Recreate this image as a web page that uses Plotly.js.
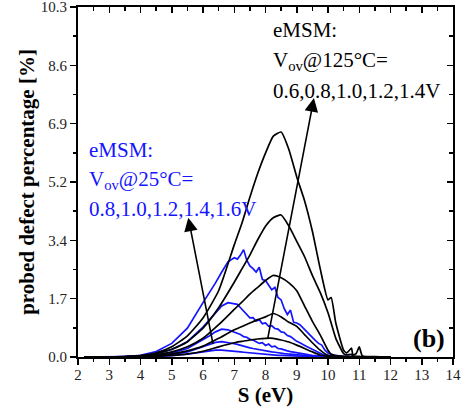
<!DOCTYPE html>
<html>
<head>
<meta charset="utf-8">
<script src="https://cdn.plot.ly/plotly-3.0.1.min.js"></script>
<style>html,body{margin:0;padding:0;background:#fff;}#chart{width:468px;height:408px;}</style>
</head>
<body>
<div id="chart"></div>
<script>
// Energy grids (eV)
const energyBlack = [2.2, 3.0, 3.5, 4.0, 4.5, 5.0, 5.5, 6.0, 6.5, 7.0, 7.25, 7.5, 7.75, 8.0, 8.25, 8.5, 8.75, 9.0, 9.25, 9.5, 9.75, 10.0, 10.1, 10.25, 10.5, 10.6, 10.75, 10.8, 10.9, 11.0, 11.1, 11.5, 12.0];
const energyBlue = [2.2, 3.0, 3.5, 4.0, 4.5, 5.0, 5.5, 6.0, 6.2, 6.4, 6.6, 6.8, 7.0, 7.1, 7.2, 7.3, 7.4, 7.5, 7.6, 7.7, 7.8, 7.9, 8.0, 8.1, 8.2, 8.3, 8.4, 8.5, 8.6, 8.7, 8.8, 8.9, 9.0, 9.1, 9.2, 9.3, 9.4, 9.5, 9.6, 9.7, 9.8, 9.9, 10.0, 10.2, 10.5, 11.0, 12.0];

// eMSM Vov @125°C (black)
const vov125Labels = ['0.6', '0.8', '1.0', '1.2', '1.4'];
const hot06 = [0, 0.0005, 0.002, 0.008, 0.02, 0.045, 0.09, 0.17, 0.3, 0.42, 0.46, 0.5, 0.53, 0.55, 0.55, 0.5, 0.44, 0.35, 0.25, 0.15, 0.06, 0.02, 0.01, 0.005, 0, 0, 0, 0, 0, 0, 0, 0, 0];
const hot08 = [0, 0.001, 0.004, 0.015, 0.04, 0.09, 0.18, 0.32, 0.55, 0.8, 0.9, 1.0, 1.1, 1.18, 1.28, 1.18, 1.02, 0.9, 0.66, 0.42, 0.2, 0.04, 0.02, 0.01, 0.005, 0, 0, 0, 0, 0, 0, 0, 0];
const hot10 = [0, 0.002, 0.007, 0.025, 0.07, 0.15, 0.3, 0.55, 0.95, 1.4, 1.62, 1.85, 2.05, 2.25, 2.4, 2.33, 2.18, 1.95, 1.5, 1.05, 0.65, 0.2, 0.08, 0.04, 0.02, 0.015, 0.01, 0.01, 0.005, 0.005, 0, 0, 0];
const hot12 = [0, 0.003, 0.01, 0.035, 0.1, 0.23, 0.45, 0.85, 1.45, 2.2, 2.6, 3.0, 3.45, 3.85, 4.1, 4.18, 3.85, 3.4, 2.95, 2.4, 1.9, 1.3, 1.0, 0.55, 0.1, 0.06, 0.08, 0.03, 0.02, 0.02, 0.01, 0, 0];
const hot14 = [0, 0.003, 0.01, 0.04, 0.12, 0.3, 0.62, 1.15, 1.95, 3.3, 3.95, 4.7, 5.4, 6.0, 6.5, 6.62, 6.1, 5.3, 4.6, 3.7, 2.6, 1.68, 1.75, 1.0, 0.2, 0.12, 0.26, 0.06, 0.1, 0.3, 0.03, 0.01, 0];

// eMSM Vov @25°C (blue)
const vov25Labels = ['0.8', '1.0', '1.2', '1.4', '1.6'];
const room08 = [0, 0.0005, 0.001, 0.005, 0.015, 0.04, 0.08, 0.15, 0.18, 0.2, 0.2, 0.19, 0.17, 0.16, 0.15, 0.14, 0.13, 0.12, 0.11, 0.1, 0.09, 0.085, 0.08, 0.07, 0.065, 0.06, 0.05, 0.045, 0.04, 0.035, 0.03, 0.025, 0.02, 0.02, 0.015, 0.015, 0.01, 0.01, 0.01, 0.005, 0.005, 0, 0, 0, 0, 0, 0];
const room10 = [0, 0.001, 0.003, 0.01, 0.03, 0.07, 0.15, 0.3, 0.37, 0.43, 0.45, 0.43, 0.39, 0.37, 0.34, 0.32, 0.29, 0.27, 0.25, 0.23, 0.21, 0.2, 0.18, 0.17, 0.15, 0.14, 0.12, 0.11, 0.1, 0.09, 0.08, 0.07, 0.06, 0.05, 0.045, 0.04, 0.035, 0.03, 0.025, 0.02, 0.015, 0.01, 0.01, 0.005, 0, 0, 0];
const room12 = [0, 0.001, 0.005, 0.02, 0.05, 0.12, 0.25, 0.5, 0.62, 0.74, 0.82, 0.8, 0.74, 0.7, 0.66, 0.6, 0.58, 0.52, 0.5, 0.45, 0.4, 0.42, 0.34, 0.38, 0.3, 0.32, 0.25, 0.24, 0.2, 0.18, 0.16, 0.14, 0.12, 0.1, 0.09, 0.07, 0.06, 0.05, 0.04, 0.03, 0.025, 0.02, 0.015, 0.01, 0.005, 0, 0];
const room14 = [0, 0.002, 0.01, 0.035, 0.1, 0.22, 0.45, 0.88, 1.08, 1.3, 1.5, 1.6, 1.57, 1.55, 1.45, 1.35, 1.25, 1.15, 1.16, 1.06, 1.1, 0.98, 1.0, 0.9, 0.92, 0.84, 0.82, 0.74, 0.72, 0.63, 0.6, 0.52, 0.46, 0.42, 0.38, 0.32, 0.27, 0.22, 0.17, 0.12, 0.09, 0.06, 0.04, 0.02, 0.01, 0, 0];
const room16 = [0, 0.003, 0.015, 0.05, 0.16, 0.4, 0.85, 1.6, 1.88, 2.18, 2.5, 2.8, 2.92, 2.88, 3.0, 3.16, 2.85, 2.68, 2.6, 2.5, 2.64, 2.28, 2.25, 2.1, 1.98, 2.05, 1.75, 1.68, 1.42, 1.25, 1.38, 1.02, 1.0, 0.95, 0.85, 0.76, 0.68, 0.55, 0.48, 0.4, 0.35, 0.2, 0.12, 0.05, 0.02, 0.005, 0];

// Axis ticks
const yTickVals = [0, 1.71667, 3.43333, 5.15, 6.86667, 8.58333, 10.3];
const yTickText = ['0.0', '1.7', '3.4', '5.2', '6.9', '8.6', '10.3'];
const yMinorVals = [0.85833, 2.575, 4.29167, 6.00833, 7.725, 9.44167];

const BLUE = '#1414ff';
const SERIF = 'Liberation Serif, Times New Roman, serif';

const roomSeries = [room08, room10, room12, room14, room16];
const hotSeries = [hot06, hot08, hot10, hot12, hot14];

const traces = [];
roomSeries.forEach((ys, i) => traces.push({
  x: energyBlue, y: ys, type: 'scatter', mode: 'lines',
  name: 'Vov@25°C ' + vov25Labels[i] + 'V',
  line: {color: BLUE, width: 1.7}, hoverinfo: 'skip'
}));
hotSeries.forEach((ys, i) => traces.push({
  x: energyBlack, y: ys, type: 'scatter', mode: 'lines',
  name: 'Vov@125°C ' + vov125Labels[i] + 'V',
  line: {color: '#000', width: 1.7, shape: 'spline', smoothing: 0.5}, hoverinfo: 'skip'
}));
// empty trace to anchor mirror axes
traces.push({x: [], y: [], xaxis: 'x2', yaxis: 'y2', type: 'scatter', mode: 'lines', showlegend: false, hoverinfo: 'skip'});

const tickFont = {family: SERIF, size: 15, color: '#222'};

const layout = {
  width: 468, height: 408,
  margin: {l: 78, r: 15, t: 7, b: 51, pad: 0},
  paper_bgcolor: '#fff', plot_bgcolor: '#fff',
  showlegend: false,
  xaxis: {
    range: [2, 14], tickmode: 'linear', tick0: 2, dtick: 1,
    ticks: 'outside', ticklen: 6, tickwidth: 1.5, tickcolor: '#000',
    minor: {tickmode: 'linear', tick0: 2, dtick: 0.5, ticks: 'outside', ticklen: 3, tickwidth: 1.5, tickcolor: '#000'},
    showline: true, linewidth: 2, linecolor: '#000', mirror: true,
    showgrid: false, zeroline: false,
    tickfont: tickFont, ticklabelstandoff: -3, ticklabeloverflow: 'allow',
    title: {text: 'S (eV)', font: {family: SERIF, size: 21, weight: 'bold', color: '#000'}, standoff: 2}
  },
  yaxis: {
    range: [0, 10.3], tickmode: 'array', tickvals: yTickVals, ticktext: yTickText,
    ticks: 'outside', ticklen: 6, tickwidth: 1.5, tickcolor: '#000',
    minor: {tickmode: 'array', tickvals: yMinorVals, ticks: 'outside', ticklen: 3, tickwidth: 1.5, tickcolor: '#000'},
    showline: true, linewidth: 2, linecolor: '#000', mirror: true,
    showgrid: false, zeroline: false,
    tickfont: tickFont, ticklabeloverflow: 'allow',
    title: {text: 'probed defect percentage [%]', font: {family: SERIF, size: 21, weight: 'bold', color: '#000'}, standoff: 0}
  },
  xaxis2: {
    overlaying: 'x', side: 'top', anchor: 'y2', range: [2, 14],
    tickmode: 'linear', tick0: 2, dtick: 1, ticks: 'inside', ticklen: 6, tickwidth: 1.5, tickcolor: '#000',
    minor: {tickmode: 'linear', tick0: 2, dtick: 0.5, ticks: 'inside', ticklen: 4, tickwidth: 1.5, tickcolor: '#000'},
    showticklabels: false, showline: false, showgrid: false, zeroline: false
  },
  yaxis2: {
    overlaying: 'y', side: 'right', anchor: 'x2', range: [0, 10.3],
    tickmode: 'array', tickvals: yTickVals, ticks: 'inside', ticklen: 6, tickwidth: 1.5, tickcolor: '#000',
    minor: {tickmode: 'array', tickvals: yMinorVals, ticks: 'inside', ticklen: 4, tickwidth: 1.5, tickcolor: '#000'},
    showticklabels: false, showline: false, showgrid: false, zeroline: false
  },
  annotations: [
    // arrows
    {x: 5.53, y: 4.1, ax: 6.33, ay: 0.34, xref: 'x', yref: 'y', axref: 'x', ayref: 'y', text: '', showarrow: true,
     arrowhead: 2, arrowsize: 1.7, arrowwidth: 1.6, arrowcolor: '#000', standoff: 0, startstandoff: 0},
    {x: 9.55, y: 7.62, ax: 8.06, ay: 0.49, xref: 'x', yref: 'y', axref: 'x', ayref: 'y', text: '', showarrow: true,
     arrowhead: 2, arrowsize: 1.7, arrowwidth: 1.6, arrowcolor: '#000', standoff: 0, startstandoff: 0},
    // blue text
    {x: 2.28, y: 6.1, xref: 'x', yref: 'y', xanchor: 'left', yanchor: 'middle', showarrow: false,
     text: 'eMSM:', font: {family: SERIF, size: 21, color: BLUE}},
    {x: 2.28, y: 5.22, xref: 'x', yref: 'y', xanchor: 'left', yanchor: 'middle', showarrow: false,
     text: 'V<sub>ov</sub>@25°C=', font: {family: SERIF, size: 21, color: BLUE}},
    {x: 2.28, y: 4.37, xref: 'x', yref: 'y', xanchor: 'left', yanchor: 'middle', showarrow: false,
     text: vov25Labels.join(',') + 'V', font: {family: SERIF, size: 21, color: BLUE}},
    // black text
    {x: 8.18, y: 9.62, xref: 'x', yref: 'y', xanchor: 'left', yanchor: 'middle', showarrow: false,
     text: 'eMSM:', font: {family: SERIF, size: 21, color: '#000'}},
    {x: 8.18, y: 8.7, xref: 'x', yref: 'y', xanchor: 'left', yanchor: 'middle', showarrow: false,
     text: 'V<sub>ov</sub>@125°C=', font: {family: SERIF, size: 21, color: '#000'}},
    {x: 8.18, y: 7.84, xref: 'x', yref: 'y', xanchor: 'left', yanchor: 'middle', showarrow: false,
     text: vov125Labels.join(',') + 'V', font: {family: SERIF, size: 21, color: '#000'}},
    // panel label
    {x: 13.8, y: 0.54, xref: 'x', yref: 'y', xanchor: 'right', yanchor: 'middle', showarrow: false,
     text: '(b)', font: {family: SERIF, size: 26, weight: 'bold', color: '#000'}}
  ]
};

Plotly.newPlot('chart', traces, layout, {staticPlot: true, displayModeBar: false});
</script>
</body>
</html>
